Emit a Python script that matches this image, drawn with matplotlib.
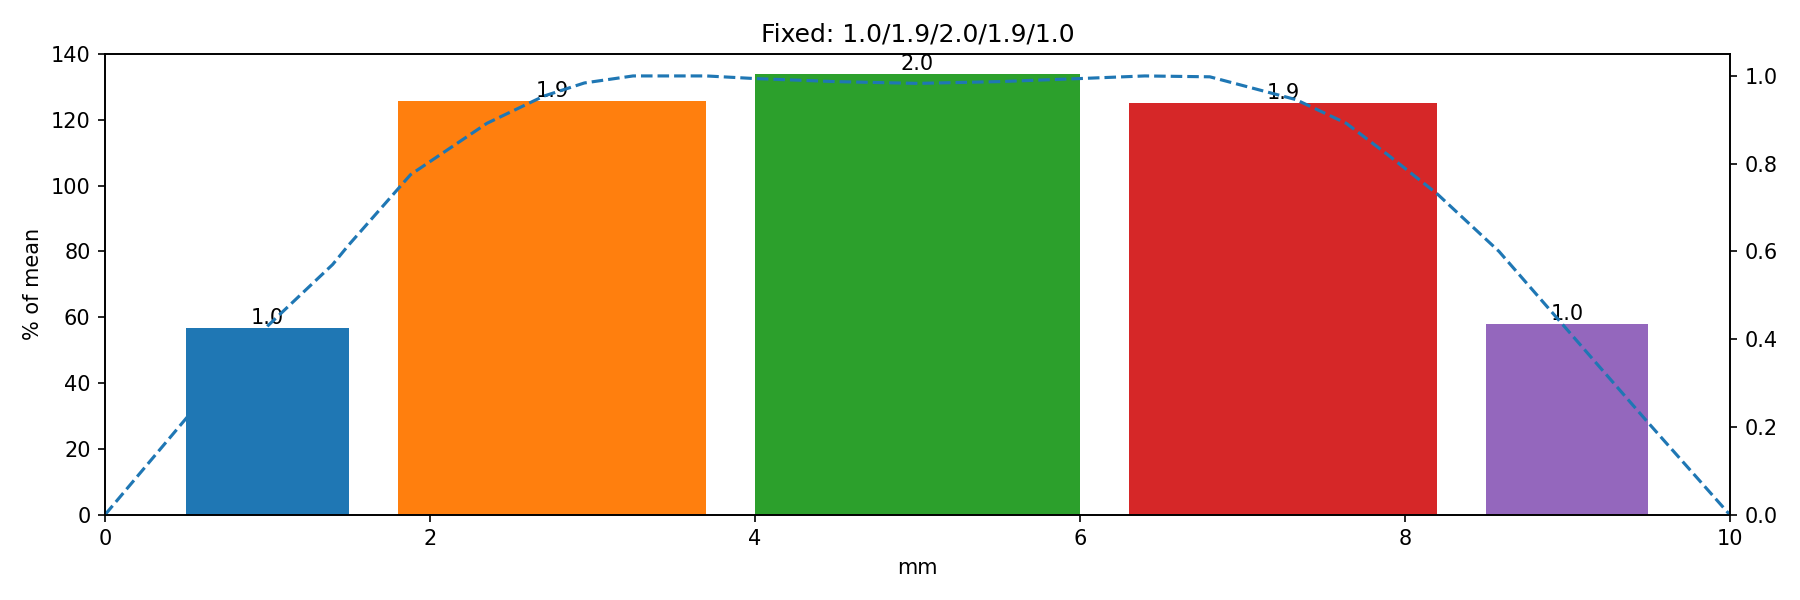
import matplotlib
matplotlib.use("Agg")
import matplotlib.pyplot as plt

# bars: left edge, width, height (% of mean)
bar_left = [0.5, 1.8, 4.0, 6.3, 8.5]
bar_width = [1.0, 1.9, 2.0, 1.9, 1.0]
bar_height = [56.8, 125.8, 133.8, 125.2, 57.8]
bar_colors = ["C0", "C1", "C2", "C3", "C4"]

# dashed profile on the right axis
prof_x = [0.0, 0.5, 1.0, 1.4, 1.5, 1.88, 2.35, 2.7, 2.95, 3.25, 3.7, 4.0, 4.5,
          5.0, 5.5, 6.0, 6.4, 6.8, 7.33, 7.64, 7.9, 8.2, 8.58, 9.49, 10.0]
prof_y = [0.0, 0.22, 0.43, 0.57, 0.615, 0.775, 0.892, 0.954, 0.984, 1.0, 1.0, 0.994, 0.987,
          0.983, 0.987, 0.994, 1.0, 0.998, 0.946, 0.892, 0.819, 0.731, 0.6, 0.213, 0.0]

fig, ax = plt.subplots(figsize=(12, 4), dpi=150)

for left, w, h, c in zip(bar_left, bar_width, bar_height, bar_colors):
    ax.bar(left, h, width=w, align="edge", color=c)
    ax.text(left + w / 2, h, f"{w:.1f}", ha="center", va="bottom")

ax.set_xlim(0, 10)
ax.set_ylim(0, 140)
ax.set_xlabel("mm")
ax.set_ylabel("% of mean")
ax.set_title("Fixed: " + "/".join(f"{w:.1f}" for w in bar_width))

ax2 = ax.twinx()
ax2.plot(prof_x, prof_y, "--", color="C0")
ax2.set_ylim(bottom=0)

plt.tight_layout()
plt.savefig("out.png", dpi=150)
